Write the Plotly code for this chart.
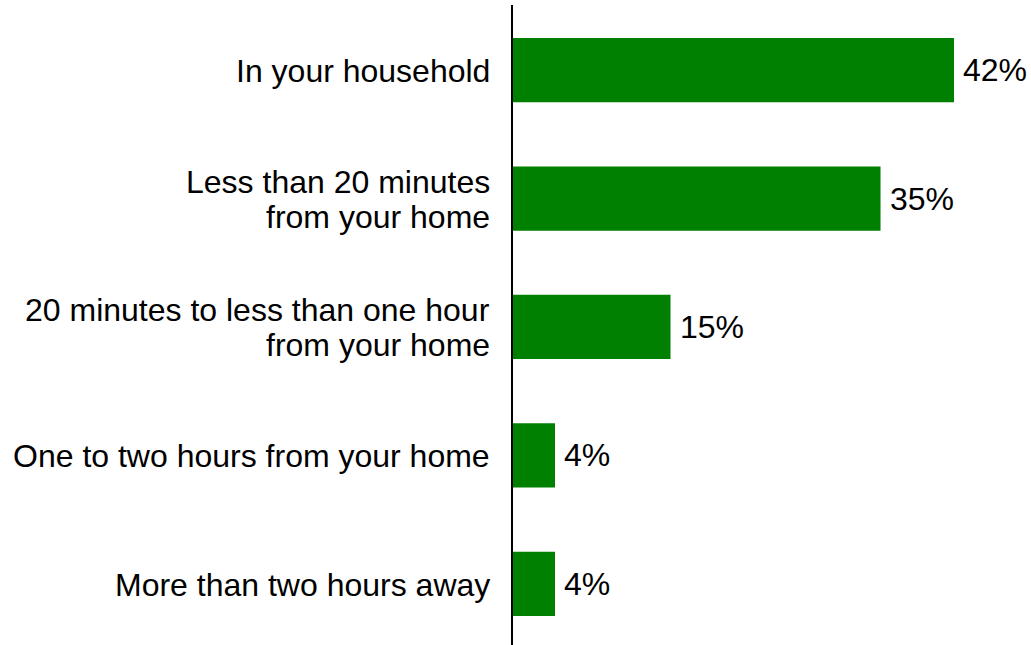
import plotly.graph_objects as go

# Survey categories (top to bottom) and their shares in percent
categories = [
    "In your household",
    "Less than 20 minutes<br>from your home",
    "20 minutes to less than one hour<br>from your home",
    "One to two hours from your home",
    "More than two hours away",
]
shares = [42, 35, 15, 4, 4]
value_labels = [f"{v}%" for v in shares]

FONT = "Arial, Liberation Sans, sans-serif"
FONT_SIZE = 32
LINE_GAP = 35  # pixel distance between lines of a wrapped label

positions = list(range(len(categories)))

fig = go.Figure(
    go.Bar(
        x=shares,
        y=positions,
        orientation="h",
        width=0.5,
        marker=dict(color="#008000", line=dict(width=0)),
        hoverinfo="skip",
    )
)

annotations = []
# Category labels, right-aligned against the axis, one annotation per line
for pos, label in zip(positions, categories):
    lines = label.split("<br>")
    n = len(lines)
    for i, line in enumerate(lines):
        offset = ((n - 1) / 2 - i) * LINE_GAP
        annotations.append(
            dict(
                x=0, y=pos, xref="x", yref="y",
                text=line, showarrow=False,
                xanchor="right", yanchor="middle",
                xshift=-21, yshift=offset - 1,
                font=dict(family=FONT, size=FONT_SIZE, color="#000000"),
            )
        )

# Value labels just past the end of each bar
for pos, val, txt in zip(positions, shares, value_labels):
    annotations.append(
        dict(
            x=val, y=pos, xref="x", yref="y",
            text=txt, showarrow=False,
            xanchor="left", yanchor="middle",
            xshift=7,
            font=dict(family=FONT, size=FONT_SIZE, color="#000000"),
        )
    )

fig.update_layout(
    width=1031,
    height=645,
    margin=dict(l=513, r=0, t=5, b=0, pad=0),
    paper_bgcolor="white",
    plot_bgcolor="white",
    showlegend=False,
    annotations=annotations,
    xaxis=dict(
        range=[0, 49.33],
        showgrid=False, zeroline=False, showline=False,
        showticklabels=False, ticks="",
        automargin=False,
    ),
    yaxis=dict(
        range=[4.475, -0.506],
        showgrid=False, zeroline=False,
        showline=True, linecolor="#000000", linewidth=2,
        showticklabels=False, ticks="",
        automargin=False,
    ),
)

fig.write_html("out.html")
